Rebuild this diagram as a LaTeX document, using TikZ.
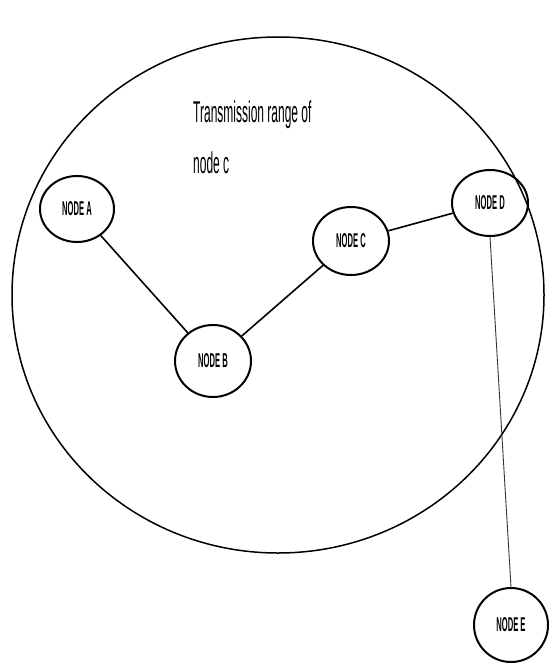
\documentclass[tikz,border=0pt]{standalone}
\usepackage{fontspec}
\setmainfont{Liberation Sans}
\usetikzlibrary{shapes.geometric}
\newcommand{\condtext}[2][0.38]{\scalebox{#1}[1]{#2}}
\tikzset{
  netnode/.style={ellipse, draw=black, line width=2pt, inner sep=0pt,
    font=\fontsize{20}{20}\selectfont\bfseries},
  link/.style={draw=black, line width=1.6pt},
  thinlink/.style={draw=black!80, line width=0.9pt},
  rangetext/.style={anchor=base west, inner sep=0pt, font=\fontsize{30}{30}\selectfont}
}
\begin{document}
\begin{tikzpicture}[x=1pt,y=-1pt]
\useasboundingbox (0,0) rectangle (557,666);
\draw[line width=1.5pt] (278,295) ellipse [x radius=266, y radius=258];
\node[rangetext] (t1) at (193,123) {\condtext[0.4]{Transmission range of}};
\node[rangetext] (t2) at (193,173) {\condtext[0.4]{node c}};
\node[netnode, minimum width=74pt, minimum height=66pt] (A) at (77,209) {\condtext{NODE A}};
\node[netnode, minimum width=76pt, minimum height=72pt] (B) at (213,361) {\condtext{NODE B}};
\node[netnode, minimum width=76pt, minimum height=68pt] (C) at (351,241) {\condtext{NODE C}};
\node[netnode, minimum width=76pt, minimum height=66pt] (D) at (490,203) {\condtext{NODE D}};
\node[netnode, minimum width=74pt, minimum height=74pt] (E) at (511,625) {\condtext{NODE E}};
\draw[link] (A) -- (B);
\draw[link] (B) -- (C);
\draw[link] (C) -- (D);
\draw[thinlink] (D.south) -- (E.north);
\end{tikzpicture}
\end{document}
